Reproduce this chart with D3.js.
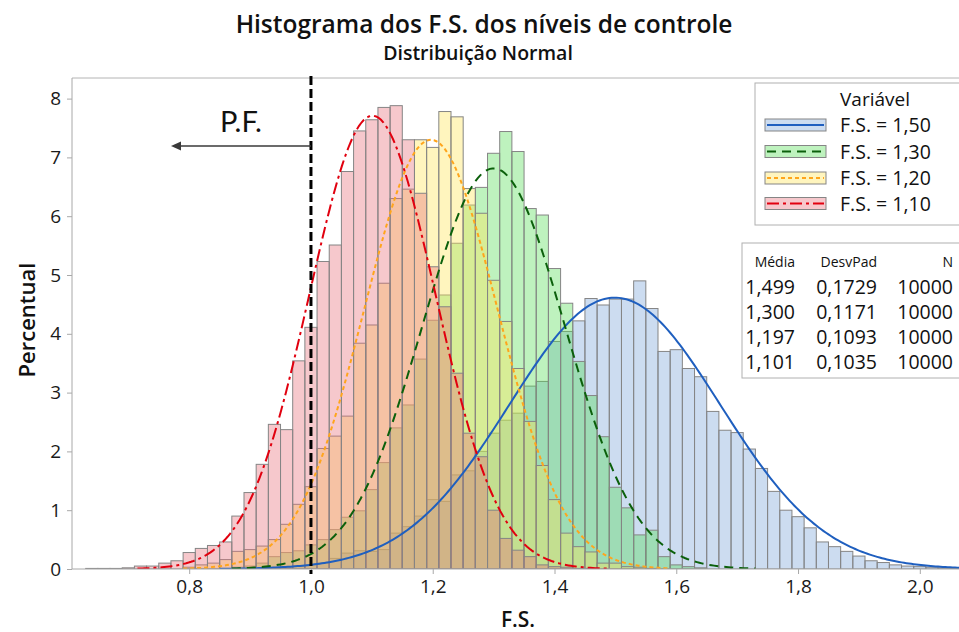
<!DOCTYPE html>
<html><head><meta charset="utf-8">
<script src="https://cdn.jsdelivr.net/npm/d3@7/dist/d3.min.js"></script>
<style>body{margin:0;background:#fff}svg{display:block}</style>
</head><body>
<svg id="c" width="959" height="632"></svg>
<script>
// ---------------- data ----------------
const seriesNames = ["F.S. = 1,50", "F.S. = 1,30", "F.S. = 1,20", "F.S. = 1,10"];
const means = [1.499, 1.300, 1.197, 1.101];
const sds = [0.1729, 0.1171, 0.1093, 0.1035];
const meanLabels = ["1,499", "1,300", "1,197", "1,101"];
const sdLabels = ["0,1729", "0,1171", "0,1093", "0,1035"];
const nLabels = ["10000", "10000", "10000", "10000"];
const binWidth = 0.02;

// first bin centre of each series, then percent per bin
const fs150Start = 0.90;
const fs150Pct = [0.01,0.01,0.02,0.03,0.05,0.07,0.10,0.18,0.27,0.31,0.30,0.33,0.61,0.72,0.90,1.18,1.15,1.60,1.67,2.00,
  2.31,2.53,2.65,3.11,3.19,3.87,4.04,4.22,4.60,4.49,4.59,4.59,4.90,4.43,3.70,3.73,3.41,3.27,2.68,2.36,
  2.32,2.04,1.71,1.32,1.00,0.89,0.70,0.46,0.38,0.30,0.22,0.14,0.11,0.07,0.05,0.04,0.03,0.02,0.01];
const fs130Start = 0.88;
const fs130Pct = [0.03,0.05,0.10,0.21,0.28,0.31,0.41,0.50,0.67,0.88,0.99,1.35,1.81,2.40,2.79,3.57,4.23,4.66,5.54,6.19,
  6.49,7.07,7.44,7.10,6.13,6.02,5.11,4.52,3.53,2.95,2.25,1.39,1.04,0.58,0.66,0.21,0.07,0.04,0.02];
const fs120Start = 0.80;
const fs120Pct = [0.03,0.07,0.10,0.16,0.30,0.33,0.39,0.50,0.76,1.10,1.40,2.05,2.26,2.60,3.84,4.15,4.86,6.30,6.46,7.30,
  7.17,7.78,7.69,6.47,6.05,4.91,4.21,3.41,2.51,1.76,1.18,0.61,0.38,0.29,0.10,0.10,0.04,0.03,0.01];
const fs110Start = 0.64;
const fs110Pct = [0.01,0.01,0.01,0.02,0.05,0.05,0.10,0.14,0.28,0.35,0.40,0.46,0.90,1.30,1.78,2.46,2.37,3.54,4.11,5.23,
  5.51,6.76,7.45,7.64,7.85,7.88,7.30,6.39,5.14,4.46,3.33,2.31,1.91,1.00,0.52,0.32,0.21,0.07,0.04,0.03,0.01,0.01];
// data range over which each fitted curve is drawn
const curveRanges = [[0.85, 2.10], [0.87, 1.73], [0.79, 1.59], [0.715, 1.49]];

const xTicks = [0.8, 1.0, 1.2, 1.4, 1.6, 1.8, 2.0];
const xTickLabels = ["0,8", "1,0", "1,2", "1,4", "1,6", "1,8", "2,0"];
const yTicks = [0, 1, 2, 3, 4, 5, 6, 7, 8];
const yTickLabels = ["0", "1", "2", "3", "4", "5", "6", "7", "8"];
const refLine = 1.0;

// ---------------- styles ----------------
const baseColors = ["rgb(121,163,216)", "rgb(84,221,84)", "rgb(255,229,84)", "rgb(231,110,121)"];
const fillOpacity = 0.38;
const lineColors = ["#1f5fbf", "#0b600b", "#ffa51c", "#e1000f"];
const lineDash = [null, "9,6", "4,3", "12,4,3,4"];
const FONT = "'Open Sans', sans-serif";

const starts = [fs150Start, fs130Start, fs120Start, fs110Start];
const pcts = [fs150Pct, fs130Pct, fs120Pct, fs110Pct];

const svg = d3.select("#c");
const plotL = 72, plotT = 78, plotB = 569, plotR = 959;
const x = d3.scaleLinear().domain([0.8, 2.0]).range([189.2, 919.8]);
const y = d3.scaleLinear().domain([0, 8]).range([569, 98.6]);

svg.append("defs").append("clipPath").attr("id", "clip")
  .append("rect").attr("x", plotL).attr("y", plotT - 4).attr("width", plotR - plotL + 20).attr("height", plotB - plotT + 4);

// frame
svg.append("line").attr("x1", plotL).attr("x2", plotR + 5).attr("y1", plotT).attr("y2", plotT)
  .attr("stroke", "#b4b4b4").attr("stroke-width", 1);

const g = svg.append("g").attr("clip-path", "url(#clip)");

// bars
pcts.forEach((arr, si) => {
  const data = arr.map((v, i) => ({c: starts[si] + i * binWidth, v}));
  g.append("g").selectAll("rect").data(data).join("rect")
    .attr("x", d => x(d.c - binWidth / 2))
    .attr("width", d => x(d.c + binWidth / 2) - x(d.c - binWidth / 2))
    .attr("y", d => y(d.v))
    .attr("height", d => y(0) - y(d.v))
    .attr("fill", baseColors[si])
    .attr("fill-opacity", fillOpacity)
    .attr("stroke", "#858585")
    .attr("stroke-width", 1);
});

// fitted normal curves
const line = d3.line().x(d => x(d[0])).y(d => y(d[1]));
means.forEach((m, si) => {
  const s = sds[si];
  const [a, b] = curveRanges[si];
  const pts = d3.range(a, b + 0.0001, 0.004).map(t => [t, 100 * binWidth * Math.exp(-0.5 * ((t - m) / s) ** 2) / (s * Math.sqrt(2 * Math.PI))]);
  const p = g.append("path").attr("d", line(pts)).attr("fill", "none")
    .attr("stroke", lineColors[si]).attr("stroke-width", 2);
  if (lineDash[si]) p.attr("stroke-dasharray", lineDash[si]);
});

// axes
svg.append("line").attr("x1", plotL).attr("x2", plotL).attr("y1", plotT).attr("y2", plotB)
  .attr("stroke", "#a8a8a8");
svg.append("line").attr("x1", plotL).attr("x2", plotR).attr("y1", plotB).attr("y2", plotB)
  .attr("stroke", "#a8a8a8");
const xAxis = svg.append("g").attr("transform", `translate(0,${plotB})`)
  .call(d3.axisBottom(x).tickValues(xTicks).tickFormat((d, i) => xTickLabels[i]).tickSize(5).tickPadding(6));
const yAxis = svg.append("g").attr("transform", `translate(${plotL},0)`)
  .call(d3.axisLeft(y).tickValues(yTicks).tickFormat((d, i) => yTickLabels[i]).tickSize(5).tickPadding(6));
[xAxis, yAxis].forEach(ax => {
  ax.select(".domain").remove();
  ax.selectAll(".tick line").attr("stroke", "#a8a8a8");
  ax.selectAll(".tick text").attr("font-family", FONT).attr("font-size", 19).attr("fill", "#1a1a1a");
});

// reference line at F.S. = 1.0
svg.append("line").attr("x1", x(refLine)).attr("x2", x(refLine)).attr("y1", 76).attr("y2", 574)
  .attr("stroke", "#000").attr("stroke-width", 3).attr("stroke-dasharray", "9,4");

// arrow + P.F.
const ay = 146;
svg.append("line").attr("x1", x(refLine)).attr("x2", 178).attr("y1", ay).attr("y2", ay)
  .attr("stroke", "#3a3a3a").attr("stroke-width", 1.5);
svg.append("path").attr("d", `M171,${ay} L181,${ay - 4.5} L181,${ay + 4.5} Z`).attr("fill", "#3a3a3a");
svg.append("text").attr("x", 241).attr("y", 132).attr("text-anchor", "middle")
  .attr("font-family", "Lato, sans-serif").attr("font-size", 29).attr("fill", "#111").text("P.F.");

// titles
svg.append("text").attr("x", 484).attr("y", 33).attr("text-anchor", "middle")
  .attr("font-family", FONT).attr("font-weight", 600).attr("font-size", 24.5)
  .attr("fill", "#111").text("Histograma dos F.S. dos níveis de controle");
svg.append("text").attr("x", 478).attr("y", 60).attr("text-anchor", "middle")
  .attr("font-family", FONT).attr("font-weight", 600).attr("font-size", 19.5)
  .attr("fill", "#111").text("Distribuição Normal");
svg.append("text").attr("transform", "translate(35,320) rotate(-90)").attr("text-anchor", "middle")
  .attr("font-family", FONT).attr("font-weight", 600).attr("font-size", 22)
  .attr("fill", "#111").text("Percentual");
svg.append("text").attr("x", 518).attr("y", 627).attr("text-anchor", "middle")
  .attr("font-family", FONT).attr("font-weight", 600).attr("font-size", 21)
  .attr("fill", "#111").text("F.S.");

// legend
const lg = svg.append("g");
lg.append("rect").attr("x", 755).attr("y", 83).attr("width", 260).attr("height", 142)
  .attr("fill", "#fff").attr("stroke", "#b0b0b0");
lg.append("text").attr("x", 840).attr("y", 105.5).attr("font-family", FONT)
  .attr("font-size", 19).attr("fill", "#111").text("Variável");
const rowY = [125, 151.5, 178, 203.5];
seriesNames.forEach((n, i) => {
  lg.append("rect").attr("x", 765).attr("y", rowY[i] - 6).attr("width", 61).attr("height", 12)
    .attr("fill", baseColors[i]).attr("fill-opacity", fillOpacity).attr("stroke", "#858585");
  const l = lg.append("line").attr("x1", 767).attr("x2", 824).attr("y1", rowY[i]).attr("y2", rowY[i])
    .attr("stroke", lineColors[i]).attr("stroke-width", 2);
  if (lineDash[i]) l.attr("stroke-dasharray", lineDash[i]);
  lg.append("text").attr("x", 840).attr("y", rowY[i] + 7).attr("font-family", FONT)
    .attr("font-size", 19.5).attr("fill", "#111").text(n);
});

// stats table
const tb = svg.append("g");
tb.append("rect").attr("x", 742).attr("y", 243).attr("width", 260).attr("height", 135)
  .attr("fill", "#fff").attr("stroke", "#b0b0b0");
const colX = [795, 877, 953];
["Média", "DesvPad", "N"].forEach((h, j) => {
  tb.append("text").attr("x", colX[j]).attr("y", 267).attr("text-anchor", "end")
    .attr("font-family", FONT).attr("font-size", 14).attr("fill", "#111").text(h);
});
const tRowY = [294, 319, 344, 369];
meanLabels.forEach((m, i) => {
  [m, sdLabels[i], nLabels[i]].forEach((t, j) => {
    tb.append("text").attr("x", colX[j]).attr("y", tRowY[i]).attr("text-anchor", "end")
      .attr("font-family", FONT).attr("font-size", 19.5).attr("fill", "#111").text(t);
  });
});
</script>
</body></html>
